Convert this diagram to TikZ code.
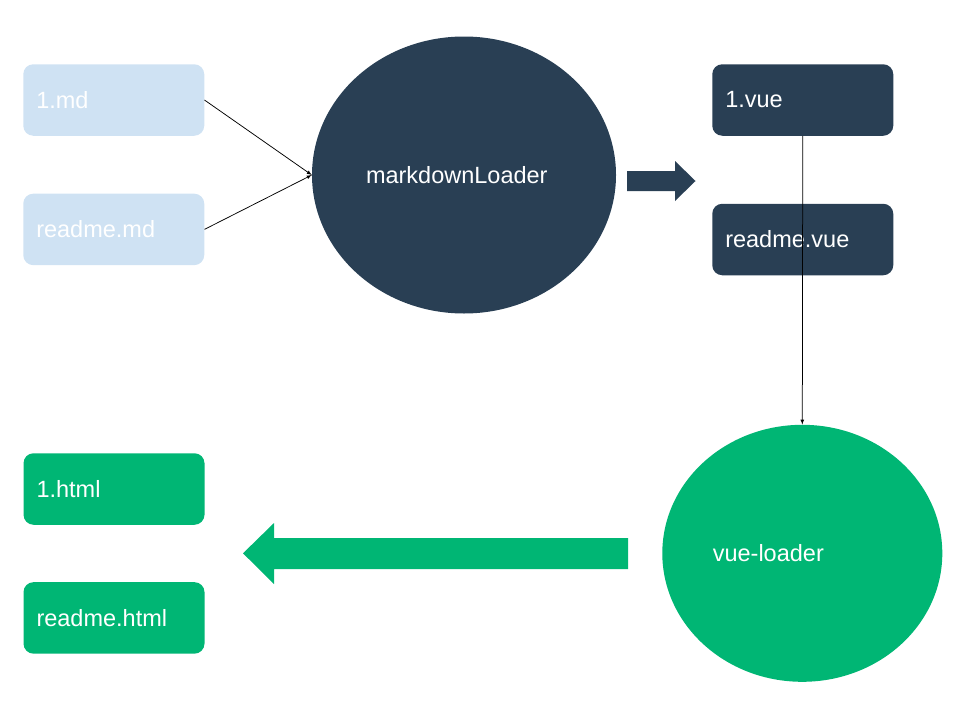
\documentclass[tikz,border=0pt]{standalone}
\usepackage{fontspec}
\setmainfont{Liberation Sans}
\usetikzlibrary{positioning,shapes.geometric}
\definecolor{navy}{RGB}{41,63,84}
\definecolor{vuegreen}{RGB}{0,182,116}
\definecolor{mdblue}{RGB}{207,226,243}
\begin{document}
\begin{tikzpicture}[x=1pt,y=-1pt,
    filenode/.style={rectangle, rounded corners=10pt, minimum width=181pt, minimum height=71.5pt,
      inner xsep=13pt, text width=155pt, align=left, text=white, font=\fontsize{23.5}{28}\selectfont},
    loadernode/.style={ellipse, inner sep=0pt, align=left, text=white, font=\fontsize{23.5}{28}\selectfont},]
    \useasboundingbox (0,0) rectangle (960,720);
    %Nodes
    \node[filenode, fill=mdblue] (md1) at (113.75,100) {1.md};
    \node[filenode, fill=mdblue] (mdreadme) [below=57.5pt of md1] {readme.md};
    \node[loadernode, fill=navy, minimum width=304pt, minimum height=277pt, text width=196pt] (mdloader) at (464,175) {markdownLoader};
    \node[filenode, fill=navy] (vue1) at (802.75,100) {1.vue};
    \node[filenode, fill=navy] (vuereadme) [below=67.6pt of vue1] {readme.vue};
    \node[loadernode, fill=vuegreen, minimum width=280pt, minimum height=257pt, text width=179pt] (vueloader) at (802.3,553.3) {vue-loader};
    \node[filenode, fill=vuegreen] (html1) at (114,489) {1.html};
    \node[filenode, fill=vuegreen] (htmlreadme) [below=57pt of html1] {readme.html};

    % %Lines
    \draw[-latex, line width=0.75pt] (md1.east) -- (mdloader.west);
    \draw[-latex, line width=0.75pt] (mdreadme.east) -- (mdloader.west);
    \draw[-latex, line width=0.75pt] (vue1.south) -- (vueloader.north);

    % %Block arrows
    \fill[navy] (627,171) -- (675,171) -- (675,161) -- (695.5,181) -- (675,201) -- (675,191) -- (627,191) -- cycle;
    \fill[vuegreen] (628,538) -- (274,538) -- (274,523) -- (243,553.3) -- (274,584) -- (274,569) -- (628,569) -- cycle;
  \end{tikzpicture}
\end{document}
